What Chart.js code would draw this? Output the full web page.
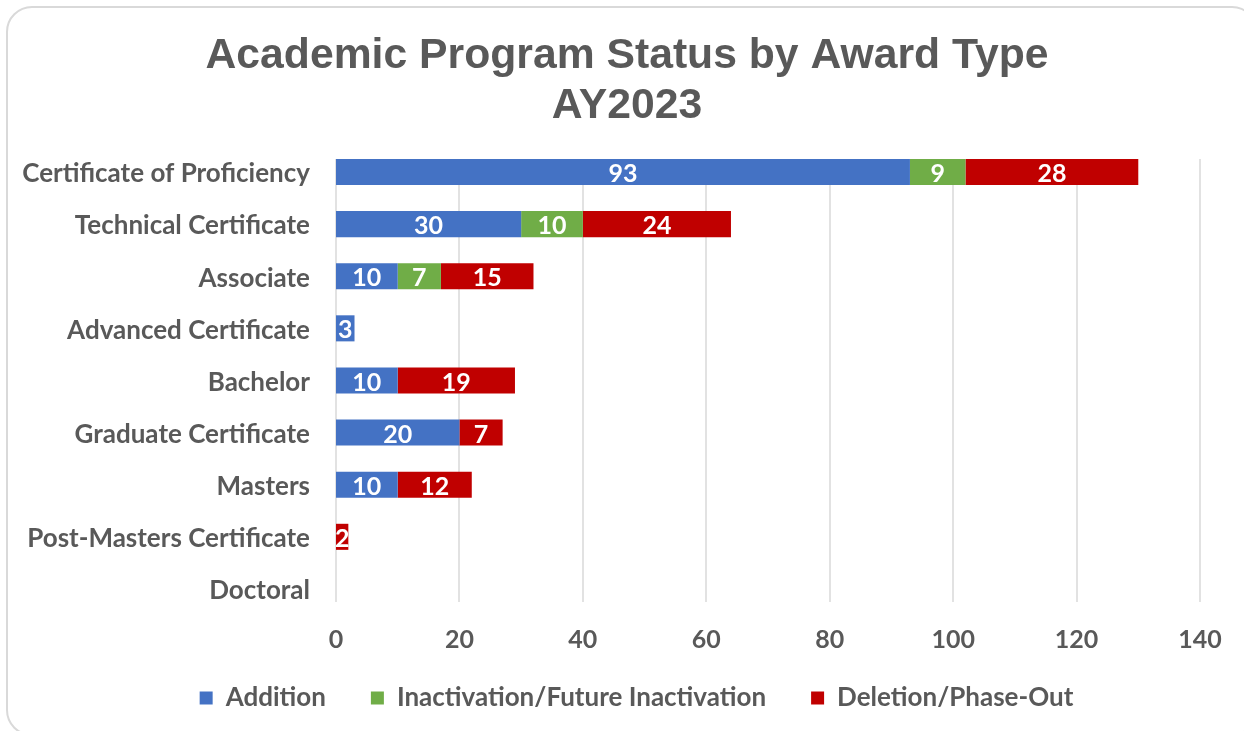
<!DOCTYPE html>
<html><head><meta charset="utf-8">
<script src="https://cdn.jsdelivr.net/npm/chart.js@4.4.0/dist/chart.umd.min.js"></script>
<style>
html,body{margin:0;padding:0;background:#fff;overflow:hidden;width:1244px;height:731px;}
#frame{position:absolute;left:6px;top:6px;width:1252px;height:730px;border:2px solid #d9d9d9;border-radius:26px;box-sizing:border-box;}
#wrap{position:absolute;left:0;top:0;width:1244px;height:731px;}
</style></head><body>
<div id="frame"></div>
<div id="wrap"><canvas id="c" width="1244" height="731"></canvas></div>
<script>
const categories = ["Certificate of Proficiency","Technical Certificate","Associate","Advanced Certificate","Bachelor","Graduate Certificate","Masters","Post-Masters Certificate","Doctoral"];
const seriesNames = ["Addition","Inactivation/Future Inactivation","Deletion/Phase-Out"];
const additionValues = [93,30,10,3,10,20,10,null,null];
const inactivationValues = [9,10,7,null,null,null,null,null,null];
const deletionValues = [28,24,15,null,19,7,12,2,null];
const xTickValues = [0,20,40,60,80,100,120,140];
const titleLines = ["Academic Program Status by Award Type","AY2023"];

const TEXT = '#595959';
const LABEL_FONT = 'Lato';

const gridPlugin = {
  id: 'customGrid',
  beforeDatasetsDraw(chart) {
    const xs = chart.scales.x, ys = chart.scales.y;
    const band = ys.height / categories.length;
    const top = ys.getPixelForValue(0) - band * 0.25;
    const bottom = ys.getPixelForValue(categories.length - 1) + band * 0.25;
    const ctx = chart.ctx;
    ctx.save();
    ctx.strokeStyle = '#d9d9d9';
    ctx.lineWidth = 1.5;
    xTickValues.forEach(v => {
      const x = Math.round(xs.getPixelForValue(v));
      ctx.beginPath(); ctx.moveTo(x, top); ctx.lineTo(x, bottom); ctx.stroke();
    });
    ctx.restore();
  }
};

const labelPlugin = {
  id: 'barLabels',
  afterDatasetsDraw(chart) {
    const ctx = chart.ctx;
    ctx.save();
    ctx.fillStyle = '#ffffff';
    ctx.font = 'bold 25px ' + LABEL_FONT;
    ctx.textAlign = 'center';
    ctx.textBaseline = 'middle';
    chart.data.datasets.forEach((ds, i) => {
      const meta = chart.getDatasetMeta(i);
      meta.data.forEach((el, j) => {
        const v = ds.data[j];
        if (v === null || v === undefined) return;
        const p = el.getProps(['x','y','base'], true);
        ctx.fillText(String(v), (p.x + p.base) / 2, p.y + 2);
      });
    });
    ctx.restore();
  }
};

// shift title / legend boxes horizontally (and the legend vertically) after layout
const placePlugin = {
  id: 'placeBoxes',
  afterLayout(chart) {
    if (chart.titleBlock) { chart.titleBlock.left = 54; }
    if (chart.legend) {
      const h = chart.legend.height;
      chart.legend.left = 73;
      chart.legend.top = 640;
      chart.legend.bottom = 640 + h;
    }
  }
};

new Chart(document.getElementById('c'), {
  type: 'bar',
  data: {
    labels: categories,
    datasets: [
      { label: seriesNames[0], data: additionValues, backgroundColor: '#4472C4' },
      { label: seriesNames[1], data: inactivationValues, backgroundColor: '#70AD47' },
      { label: seriesNames[2], data: deletionValues, backgroundColor: '#C00000' }
    ]
  },
  options: {
    indexAxis: 'y',
    responsive: false,
    animation: false,
    devicePixelRatio: 1,
    categoryPercentage: 1.0,
    barPercentage: 0.5,
    layout: { padding: { left: 0, right: 44, top: 0, bottom: 0 } },
    scales: {
      x: {
        stacked: true, min: 0, max: 140,
        grid: { display: false },
        border: { display: false },
        ticks: { stepSize: 20, padding: 2, color: TEXT, font: { family: LABEL_FONT, size: 25, weight: 'bold' } },
        afterFit(s) { s.height = 45; }
      },
      y: {
        stacked: true,
        offset: true,
        grid: { display: false },
        border: { display: false },
        ticks: { padding: 18, labelOffset: 2, color: TEXT, font: { family: LABEL_FONT, size: 26, weight: 'bold' } },
        afterFit(s) { s.width = 336; }
      }
    },
    plugins: {
      title: {
        display: true,
        text: titleLines,
        color: TEXT,
        font: { family: 'Liberation Sans', size: 42.7, weight: 'bold', lineHeight: 1.17 },
        padding: { top: 31, bottom: 15 }
      },
      legend: {
        position: 'bottom',
        maxHeight: 71,
        labels: {
          color: TEXT,
          boxWidth: 13, boxHeight: 13,
          padding: 45,
          font: { family: LABEL_FONT, size: 26, weight: 'bold' }
        }
      },
      tooltip: { enabled: false }
    }
  },
  plugins: [gridPlugin, labelPlugin, placePlugin]
});
</script>
</body></html>
